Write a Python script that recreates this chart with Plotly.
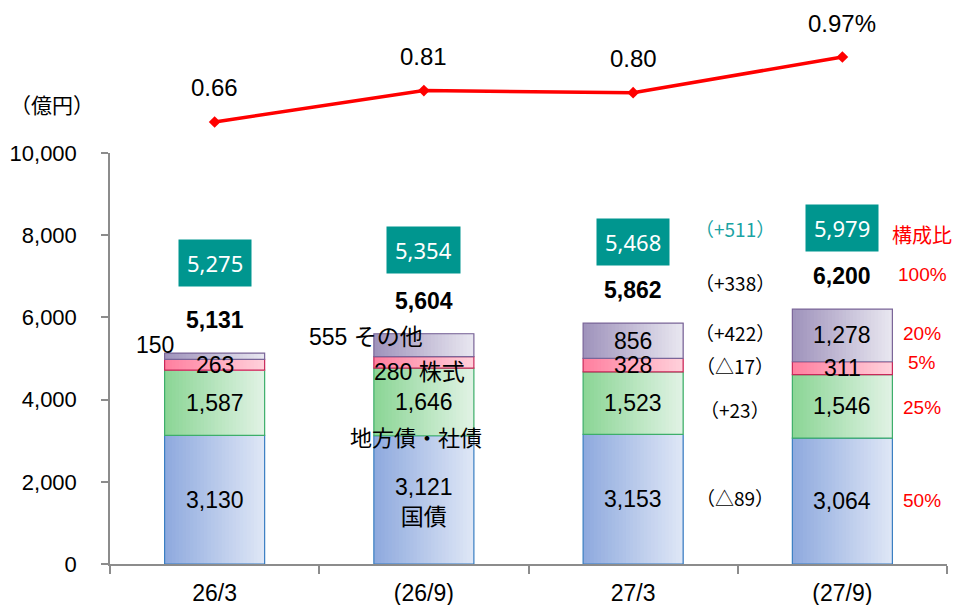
import numpy as np
import plotly.graph_objects as go

# ---------------- data ----------------
categories = ["26/3", "(26/9)", "27/3", "(27/9)"]
kokusai = [3130, 3121, 3153, 3064]        # 国債
chihosai = [1587, 1646, 1523, 1546]       # 地方債・社債
kabushiki = [263, 280, 328, 311]          # 株式
sonota = [150, 555, 856, 1278]            # その他
totals = [5131, 5604, 5862, 6200]
boxed_values = [5275, 5354, 5468, 5979]
ratio = [0.66, 0.81, 0.80, 0.97]
composition_labels = ["構成比", "100%", "20%", "5%", "25%", "50%"]
unit_label = "（億円）"

# ---------------- style ----------------
NUM_FONT = "Liberation Sans, Arial, Noto Sans CJK JP"
CJK_FONT = "Noto Sans CJK JP, Liberation Sans"
NARROW_FONT = "Liberation Sans Narrow, Arial Narrow, Liberation Sans"
TEAL = "#00968F"

series = [
    # values, left colour, right colour, border
    (kokusai, (143, 170, 222), (222, 230, 246), "#3A7EC2"),
    (chihosai, (140, 214, 150), (224, 242, 228), "#3DAE6A"),
    (kabushiki, (255, 128, 160), (255, 208, 218), "#C8285A"),
    (sonota, (160, 148, 188), (232, 230, 240), "#7A6598"),
]

BW = 0.478
N = 28


def mix(a, b, t):
    return "rgb({},{},{})".format(*[int(round(a[k] + (b[k] - a[k]) * t)) for k in range(3)])


fig = go.Figure()
bases = np.zeros(len(categories))
seg_info = []
for vals, cl, cr, border in series:
    v = np.array(vals, dtype=float)
    for i in range(N):
        t = i / (N - 1)
        fig.add_trace(go.Bar(
            x=categories, y=v, base=bases, width=BW - i * BW / N, offset=-BW / 2 + i * BW / N,
            marker=dict(color=mix(cl, cr, t), line=dict(width=0), opacity=1),
            hoverinfo="skip", showlegend=False))
    fig.add_trace(go.Bar(
        x=categories, y=v, base=bases, width=BW, offset=-BW / 2,
        marker=dict(color="rgba(0,0,0,0)", line=dict(color=border, width=1.2)),
        hoverinfo="skip", showlegend=False))
    seg_info.append((v, bases.copy()))
    bases = bases + v

# ratio line
fig.add_trace(go.Scatter(
    x=categories, y=ratio, yaxis="y2", mode="lines+markers",
    line=dict(color="#FF0000", width=3.5),
    marker=dict(symbol="diamond", size=9, color="#FF0000"),
    hoverinfo="skip", showlegend=False, cliponaxis=False))

annotations = []


def ann(x, y, text, size=23, color="black", family=NUM_FONT, xshift=0, yshift=0,
        yref="y", xref="x", **kw):
    d = dict(x=x, y=y, xref=xref, yref=yref, text=text, showarrow=False,
             font=dict(size=size, color=color, family=family), xshift=xshift, yshift=yshift)
    d.update(kw)
    annotations.append(d)


# in-bar labels
special = {
    (3, 0): dict(xshift=-60, yshift=11),
    (2, 1): dict(text_suffix=" 株式", xshift=-4, yshift=-10),
    (3, 1): dict(text_suffix=" その他", xshift=-58, yshift=8),
    (0, 1): dict(text_suffix="<br>国債", yshift=-2),
}
for s_idx, (v, b) in enumerate(seg_info):
    for j, cat in enumerate(categories):
        sp = special.get((s_idx, j), {})
        txt = f"{int(v[j]):,}" + sp.get("text_suffix", "")
        ann(cat, b[j] + v[j] / 2, txt, xshift=sp.get("xshift", 0), yshift=sp.get("yshift", 0))

# 地方債・社債 label sits on the boundary of bar 2
ann(categories[1], seg_info[1][1][1], "地方債・社債", size=22, family=CJK_FONT, xshift=-8)

# totals
for j, cat in enumerate(categories):
    ann(cat, totals[j], f"<b>{totals[j]:,}</b>", size=23, yshift=33)

# teal boxes
box_shift = [90, 84, 81, 81]
for j, cat in enumerate(categories):
    ann(cat, totals[j], f"{boxed_values[j]:,}", size=22, color="white", yshift=box_shift[j],
        bgcolor=TEAL, borderpad=8, family="Noto Sans, Liberation Sans")

# ratio labels
for j, cat in enumerate(categories):
    txt = f"{ratio[j]:.2f}" + ("%" if j == len(categories) - 1 else "")
    ann(cat, ratio[j], txt, size=24, yref="y2", yshift=34, family=NARROW_FONT)


# change column (27/3 -> 27/9)
def fmt_change(d):
    return f"（+{d:,}）" if d >= 0 else f"（△{abs(d):,}）"


last, prev = len(categories) - 1, len(categories) - 2
chg_x = categories[prev]
CHG_SIZE = 19
ann(chg_x, totals[last], fmt_change(boxed_values[last] - boxed_values[prev]), size=CHG_SIZE,
    color="#1AA3A3", family=CJK_FONT, xshift=102, yshift=81)
ann(chg_x, totals[last], fmt_change(totals[last] - totals[prev]), size=CHG_SIZE,
    family=CJK_FONT, xshift=102, yshift=27)
chg_shift = [4, -3, 3, 3]
for s_idx in [3, 2, 1, 0]:
    v, b = seg_info[s_idx]
    ann(chg_x, b[last] + v[last] / 2, fmt_change(int(v[last] - v[prev])), size=CHG_SIZE,
        family=CJK_FONT, xshift=102, yshift=chg_shift[s_idx])

# composition column
comp_x = categories[last]
ann(comp_x, totals[last], composition_labels[0], size=20, color="#FF0000",
    family=CJK_FONT, xshift=80, yshift=75)
ann(comp_x, totals[last], composition_labels[1], size=19, color="#FF0000",
    family=NUM_FONT, xshift=80, yshift=35)
comp_shift = {3: 2, 2: 6, 1: -1, 0: 1}
for k, s_idx in enumerate([3, 2, 1, 0]):
    v, b = seg_info[s_idx]
    ann(comp_x, b[last] + v[last] / 2, composition_labels[2 + k], size=19, color="#FF0000",
        family=NUM_FONT, xshift=80, yshift=comp_shift[s_idx])

# unit label
ann(-0.0693, 0.8456, unit_label, size=21, family=CJK_FONT, xref="paper", yref="paper",
    xanchor="center", yanchor="middle")

AXIS_GREY = "#8C8C8C"
fig.update_layout(
    width=958, height=605,
    margin=dict(l=110, r=11, t=20, b=41),
    plot_bgcolor="white", paper_bgcolor="white",
    barmode="overlay", showlegend=False,
    annotations=annotations,
    xaxis=dict(
        type="category", range=[-0.5, 3.5],
        showline=True, linecolor=AXIS_GREY, linewidth=1.5,
        ticks="outside", tickson="boundaries", ticklen=8, tickcolor=AXIS_GREY, tickwidth=1.5,
        tickfont=dict(size=23, color="black", family=NARROW_FONT),
        ticklabelstandoff=8, showgrid=False, automargin=False, fixedrange=True),
    yaxis=dict(
        domain=[0, 411 / 544], range=[0, 10000],
        tickvals=[0, 2000, 4000, 6000, 8000, 10000], tickformat=",",
        showline=True, linecolor=AXIS_GREY, linewidth=1.5,
        ticks="outside", ticklen=7, tickcolor=AXIS_GREY, tickwidth=1.5,
        tickfont=dict(size=22, color="black", family=NUM_FONT),
        ticklabelstandoff=20,
        showgrid=False, zeroline=False, automargin=False, fixedrange=True),
    yaxis2=dict(
        domain=[0.78, 1.0], range=[0.5756, 1.1465], anchor="x",
        visible=False, showgrid=False, zeroline=False, fixedrange=True),
)

fig.write_html(
    "out.html",
    config={"displayModeBar": False},
    post_script="document.body.style.margin='0';document.body.style.overflow='hidden';",
)
